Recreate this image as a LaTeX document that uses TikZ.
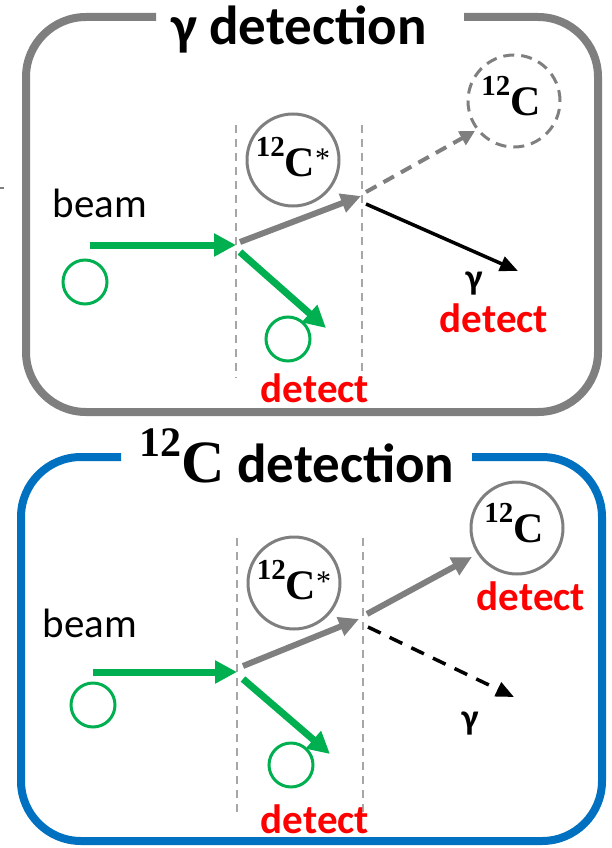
\documentclass[tikz,border=0pt]{standalone}
\usepackage[no-math]{fontspec}
\setmainfont{Carlito}
\newfontfamily\nucfont{Liberation Serif}
\usetikzlibrary{arrows.meta}
\definecolor{framegray}{HTML}{7F7F7F}
\definecolor{guidegray}{HTML}{A6A6A6}
\definecolor{beamgreen}{HTML}{00B050}
\definecolor{detectred}{HTML}{FF0000}
\definecolor{panelblue}{HTML}{0070C0}
% carbon-12 labels: mass number raised in front of a bold serif C
\newcommand\carbon{{\nucfont\bfseries\raisebox{20pt}{\fontsize{29}{30}\selectfont 12}\fontsize{42}{48}\selectfont C}}
\newcommand\carbonexc{{\carbon\nucfont\mdseries\raisebox{8pt}{\fontsize{30}{32}\selectfont *}}}
\newcommand\carbontitle{{\nucfont\bfseries\raisebox{26pt}{\fontsize{42}{44}\selectfont 12}\fontsize{60}{64}\selectfont C}}
\begin{document}
\begin{tikzpicture}[x=1pt,y=-1pt,
  panel/.style={line width=8pt, rounded corners=60pt},
  guide/.style={draw=guidegray, line width=2.5pt, dash pattern=on 8pt off 6pt},
  ball/.style={circle, draw=beamgreen, line width=3pt, minimum size=44pt, inner sep=0pt},
  nucleus/.style={circle, draw=framegray, line width=3pt, minimum size=92pt, inner sep=0pt},
  ghost/.style={nucleus, dash pattern=on 11pt off 7pt},
  beamarrow/.style={draw=beamgreen, line width=7pt, -{Triangle[length=22pt,width=22pt]}},
  fragarrow/.style={draw=framegray, line width=6pt, -{Triangle[length=20pt,width=19pt]}},
  ghostarrow/.style={draw=framegray, line width=4pt, dash pattern=on 12pt off 8pt,
    -{Triangle[length=15pt,width=15pt]}},
  gammaarrow/.style={draw=black, line width=3.5pt, -{Triangle[length=18pt,width=15pt]}},
  gammadashed/.style={gammaarrow, dash pattern=on 14pt off 10pt},
  txt/.style={anchor=base, inner sep=0pt, font=\fontsize{41}{48}\selectfont},
  detectlabel/.style={txt, text=detectred, font=\fontsize{41}{48}\selectfont\bfseries},
  gammalabel/.style={inner sep=0pt, font=\fontsize{36}{42}\selectfont\bfseries},
  title/.style={anchor=base, inner sep=0pt, font=\fontsize{55}{62}\selectfont\bfseries}]
\useasboundingbox (0,0) rectangle (611,848);

% ---------- upper panel: gamma detection ----------
\draw[framegray, panel] (156,17) -- (26,17) -- (26,412) -- (598,412) -- (598,17) -- (464,17);
\node[title] (titleA) at (299,45) {γ detection};
\draw[framegray, line width=2pt] (0,188) -- (4,188);

\draw[guide] (236,125) -- (236,378);
\draw[guide] (362,125) -- (362,378);

\node[txt] (beamA) at (100,217) {beam};
\node[ball] (projA) at (85,282) {};
\node[ball] (ejA) at (288,339) {};
\node[nucleus] (excA) at (293,160) {};
\node[inner sep=0pt] (excTextA) at (293,157) {\carbonexc};
\node[ghost] (groundA) at (514,101) {};
\node[inner sep=0pt] (groundTextA) at (511,96) {\carbon};

\coordinate (beamStartA) at (90,245);
\coordinate (hitA) at (236,245);
\coordinate (ejStartA) at (240,252);
\coordinate (ejEndA) at (326,328);
\coordinate (recStartA) at (240,242);
\coordinate (decayA) at (361,196);
\coordinate (ghostStartA) at (366,192);
\coordinate (ghostEndA) at (475,131);
\coordinate (gamStartA) at (366,204);
\coordinate (gamEndA) at (518,271);

\draw[beamarrow] (beamStartA) -- (hitA);
\draw[beamarrow] (ejStartA) -- (ejEndA);
\draw[fragarrow] (recStartA) -- (decayA);
\draw[ghostarrow] (ghostStartA) -- (ghostEndA);
\draw[gammaarrow] (gamStartA) -- (gamEndA);

\node[gammalabel] (gamA) at (474,284) {γ};
\node[detectlabel] (detGamA) at (494,332) {detect};
\node[detectlabel] (detEjA) at (315,402) {detect};

% ---------- lower panel: 12C detection ----------
\draw[panelblue, panel] (121,457) -- (21,457) -- (21,841) -- (602,841) -- (602,457) -- (472,457);
\node[title] (titleB) at (297,482) {\carbontitle\ detection};

\draw[guide] (237,538) -- (237,812);
\draw[guide] (363,538) -- (363,812);

\node[txt] (beamB) at (90,637) {beam};
\node[ball] (projB) at (93,705) {};
\node[ball] (ejB) at (291,765) {};
\node[nucleus] (excB) at (294,583) {};
\node[inner sep=0pt] (excTextB) at (294,580) {\carbonexc};
\node[nucleus] (groundB) at (517,528) {};
\node[inner sep=0pt] (groundTextB) at (514,523) {\carbon};

\coordinate (beamStartB) at (93,672);
\coordinate (hitB) at (237,672);
\coordinate (ejStartB) at (243,679);
\coordinate (ejEndB) at (330,754);
\coordinate (recStartB) at (243,666);
\coordinate (decayB) at (359,619);
\coordinate (recStart2B) at (367,614);
\coordinate (recEnd2B) at (472,557);
\coordinate (gamStartB) at (368,627);
\coordinate (gamEndB) at (514,697);

\draw[beamarrow] (beamStartB) -- (hitB);
\draw[beamarrow] (ejStartB) -- (ejEndB);
\draw[fragarrow] (recStartB) -- (decayB);
\draw[fragarrow] (recStart2B) -- (recEnd2B);
\draw[gammadashed] (gamStartB) -- (gamEndB);

\node[gammalabel] (gamB) at (470,724) {γ};
\node[detectlabel] (detNucB) at (531,610) {detect};
\node[detectlabel] (detEjB) at (315,833) {detect};
\end{tikzpicture}
\end{document}
